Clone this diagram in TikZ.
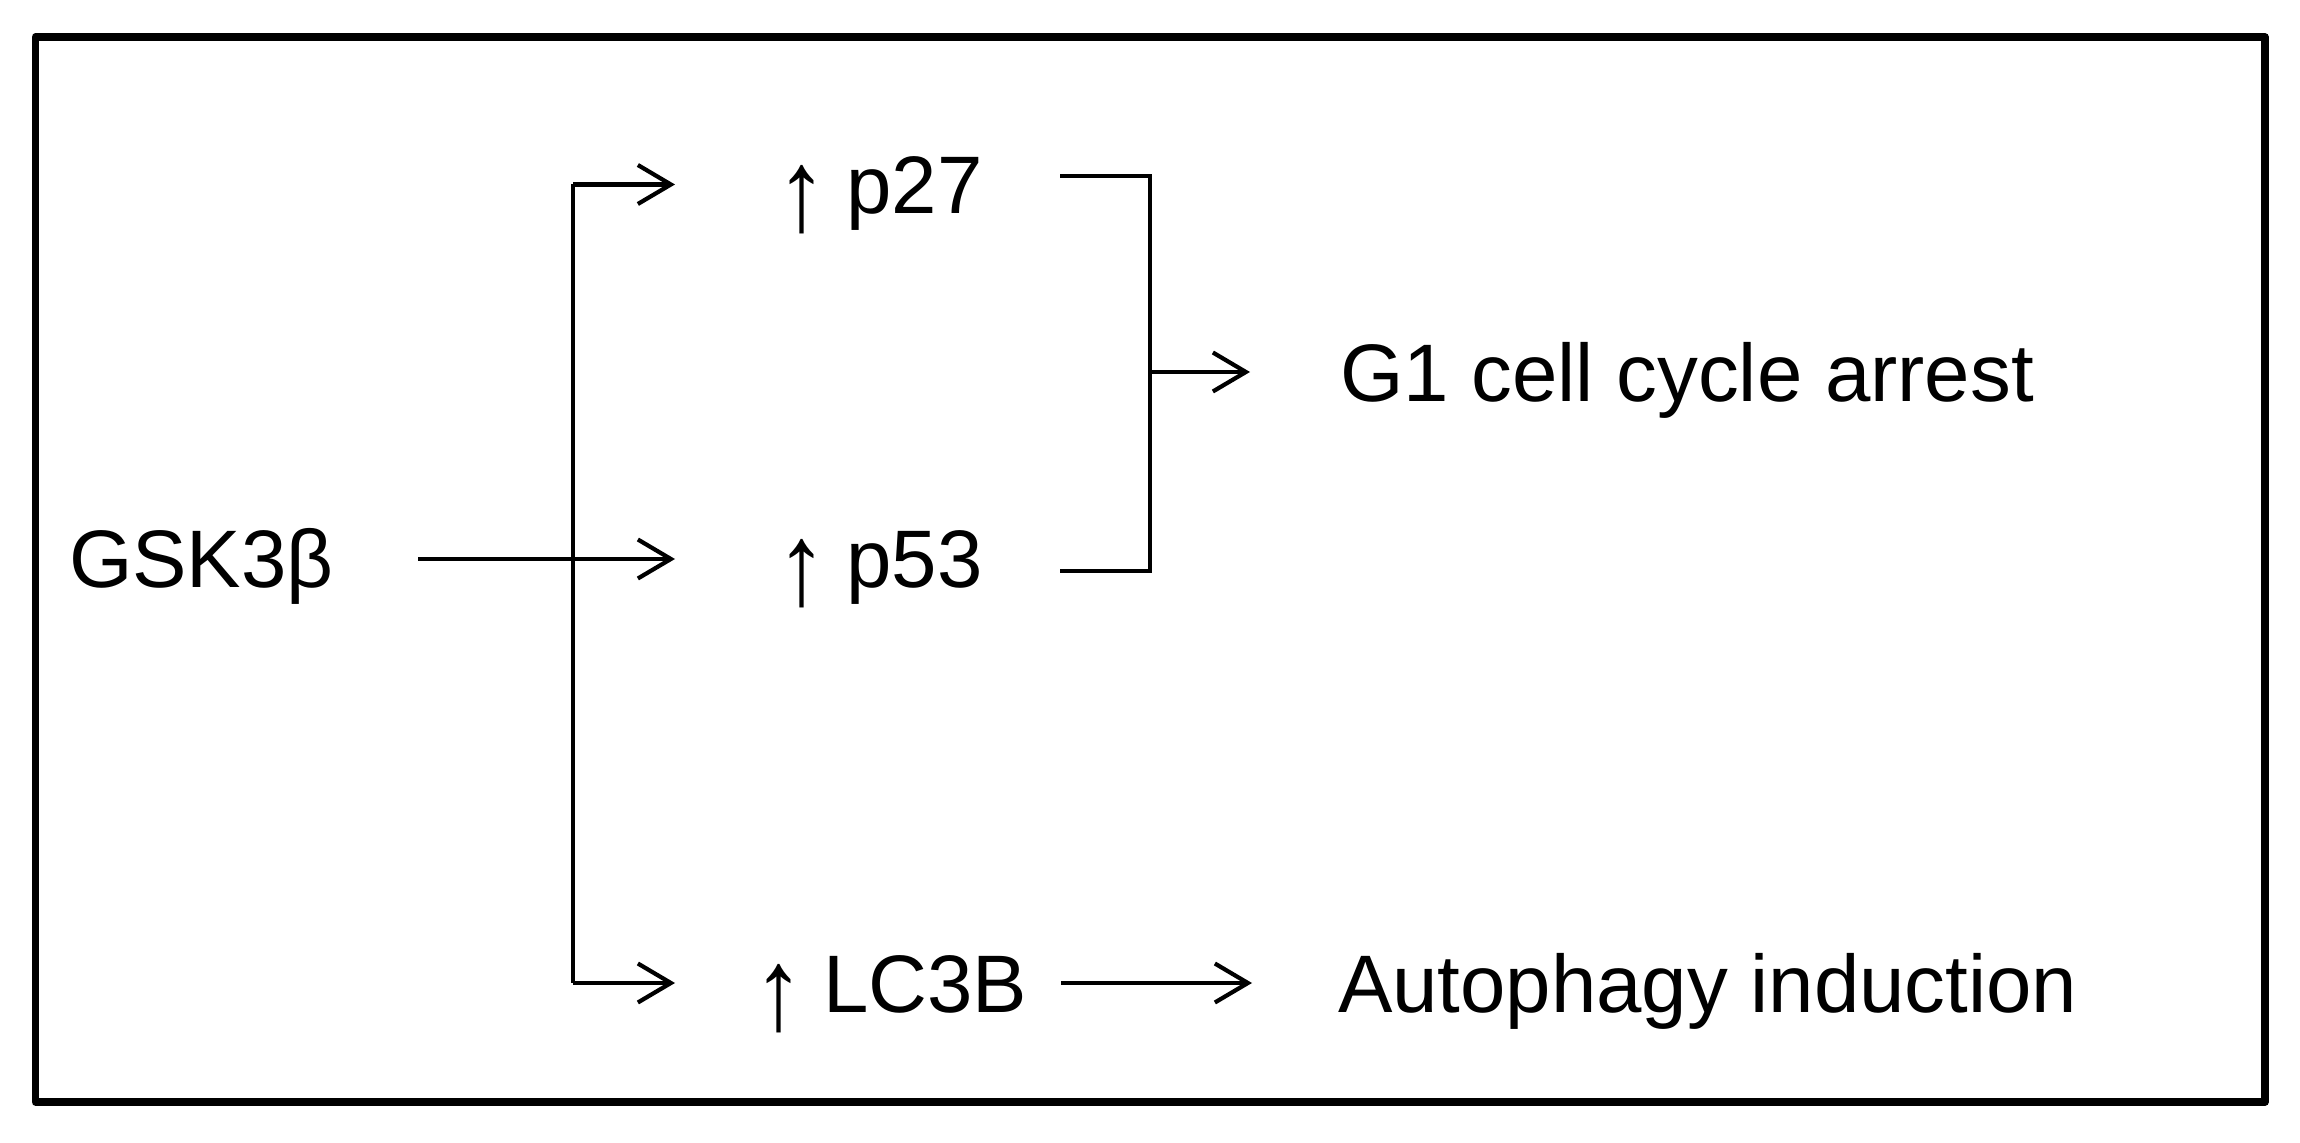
\documentclass[tikz,border=0pt]{standalone}
\usepackage{fontspec}
\setmainfont{Liberation Sans}
\usetikzlibrary{arrows.meta}
\newcommand{\uparr}{\raisebox{-8.5pt}{\scalebox{1.25}[1.42]{↑}}\kern-1.7pt\ }
\tikzset{
  lbl/.style={anchor=base west, inner sep=0pt, outer sep=0pt, font=\fontsize{40.8}{48}\selectfont},
  conn/.style={line width=2.1pt, line join=miter},
  arr/.style={conn, -{Straight Barb[length=16.5pt, width=19.5pt, line width=2.1pt]}},
  frame/.style={line width=3.65pt, line join=round}
}
\begin{document}
\begin{tikzpicture}[x=0.5pt,y=-0.5pt]
\useasboundingbox (0,0) rectangle (2300,1143);
\draw[frame] (35.5,37) rectangle (2265,1102);

\node[lbl] (gsk) at (69,588) {GSK3β};
\node[lbl] (p27) at (776,214) {\uparr p27};
\node[lbl] (p53) at (776,588) {\uparr p53};
\node[lbl] (lc3b) at (753,1012) {\uparr LC3B};
\node[lbl] (g1) at (1340,402) {G1 cell cycle arrest};
\node[lbl] (auto) at (1338,1012) {Autophagy induction};

\coordinate (gskE) at (418,559);
\coordinate (p53W) at (675,559);
\coordinate (branchTop) at (573,184.5);
\coordinate (branchBot) at (573,983);
\coordinate (p27W) at (675,184.5);
\coordinate (lc3bW) at (675,983);
\coordinate (p27E) at (1060,176);
\coordinate (p53E) at (1060,571);
\coordinate (brTop) at (1150,176);
\coordinate (brBot) at (1150,571);
\coordinate (brMid) at (1150,372);
\coordinate (g1W) at (1250,372);
\coordinate (lc3bE) at (1061,983);
\coordinate (autoW) at (1252,983);

\draw[arr] (gskE) -- (p53W);
\draw[conn] (branchTop) -- (branchBot);
\draw[arr] (branchTop) -- (p27W);
\draw[arr] (branchBot) -- (lc3bW);
\draw[conn] (p27E) -- (brTop) -- (brBot) -- (p53E);
\draw[arr] (brMid) -- (g1W);
\draw[arr] (lc3bE) -- (autoW);
\end{tikzpicture}
\end{document}
